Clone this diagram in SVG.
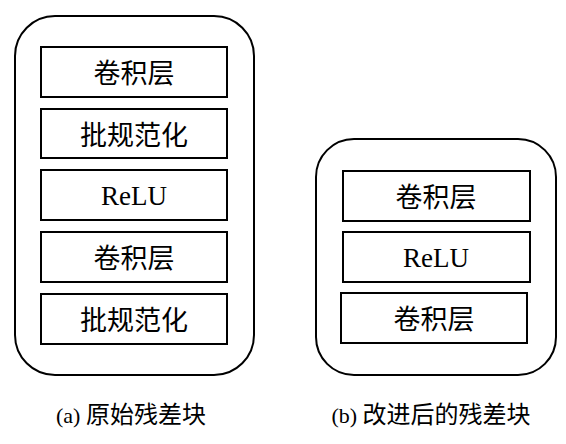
<svg xmlns="http://www.w3.org/2000/svg" width="566" height="444" viewBox="0 0 566 444">
<style>
.outer{fill:none;stroke:#000;stroke-width:2}
.box{fill:#fff;stroke:#000;stroke-width:2}
.t{font-family:"Liberation Serif","Noto Sans CJK SC",serif;font-size:27px;text-anchor:middle;fill:#000}
.cap{font-family:"Liberation Serif","Noto Sans CJK SC",serif;font-size:22px;text-anchor:middle;fill:#000}
.cj{font-size:24px}
</style>
<rect width="566" height="444" fill="#fff"/>
<g id="blockA">
<rect class="outer" x="15" y="16" width="239" height="359" rx="40" ry="40"/>
</g>
<g id="a1"><rect class="box" x="41" y="47" width="186" height="50"/><text class="t" x="134" y="83">卷积层</text></g>
<g id="a2"><rect class="box" x="41" y="109" width="186" height="49"/><text class="t" x="134" y="145">批规范化</text></g>
<g id="a3"><rect class="box" x="41" y="170" width="186" height="50"/><text class="t" x="134" y="205">ReLU</text></g>
<g id="a4"><rect class="box" x="41" y="232" width="186" height="50"/><text class="t" x="134" y="268">卷积层</text></g>
<g id="a5"><rect class="box" x="41" y="294" width="186" height="50"/><text class="t" x="134" y="330">批规范化</text></g>
<g id="capA"><text class="cap" x="131" y="423">(a) <tspan class="cj">原始残差块</tspan></text></g>
<g id="blockB">
<rect class="outer" x="316" y="139" width="240" height="236" rx="38" ry="38"/>
</g>
<g id="b1"><rect class="box" x="343" y="171" width="187" height="50"/><text class="t" x="436" y="207">卷积层</text></g>
<g id="b2"><rect class="box" x="343" y="232" width="187" height="50"/><text class="t" x="436" y="267">ReLU</text></g>
<g id="b3"><rect class="box" x="341" y="293" width="186" height="50"/><text class="t" x="434" y="329">卷积层</text></g>
<g id="capB"><text class="cap" x="431" y="423">(b) <tspan class="cj">改进后的残差块</tspan></text></g>
<g id="connectors"></g>
</svg>
